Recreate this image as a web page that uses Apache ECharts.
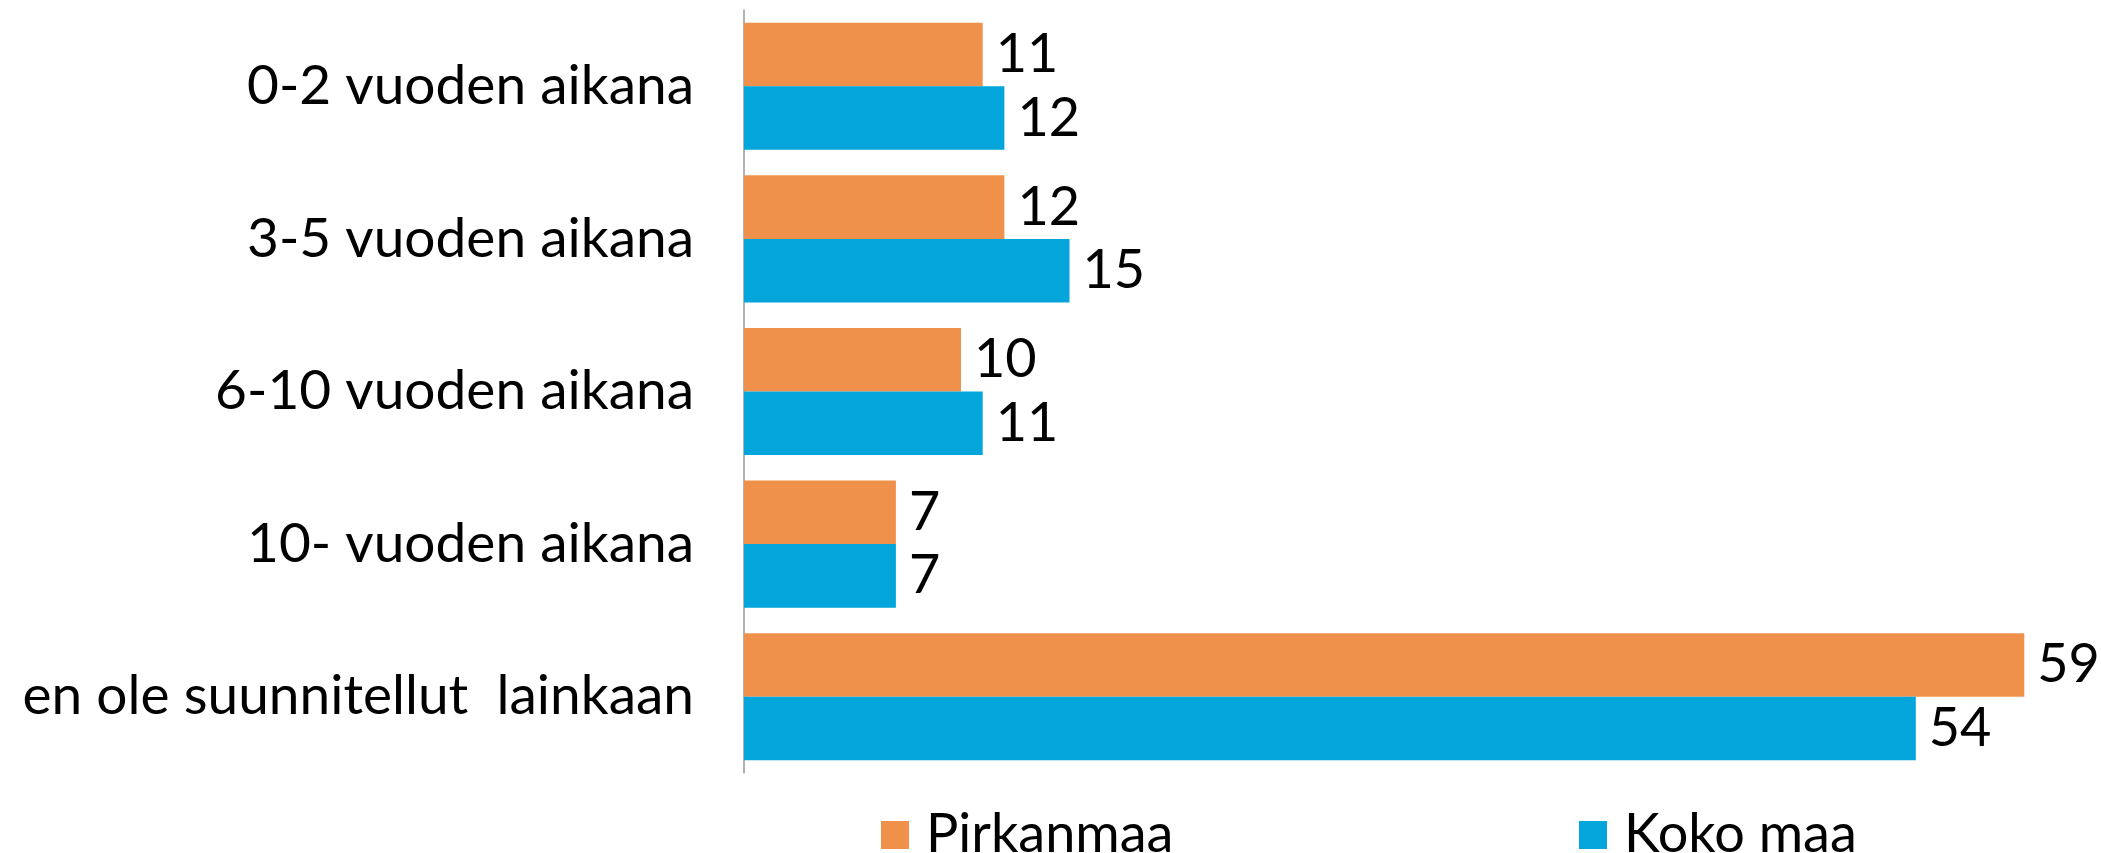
<!DOCTYPE html>
<html>
<head>
<meta charset="utf-8">
<script src="https://cdn.jsdelivr.net/npm/echarts@6/dist/echarts.min.js"></script>
<style>
	html, body { margin: 0; padding: 0; background: #fff; }
	#chart { width: 2101px; height: 853px; }
</style>
</head>
<body>
<div id="chart"></div>
<script>
var categories = ['0-2 vuoden aikana', '3-5 vuoden aikana', '6-10 vuoden aikana', '10- vuoden aikana', 'en ole suunnitellut  lainkaan'];
var pirkanmaa = [11, 12, 10, 7, 59];
var kokoMaa = [12, 15, 11, 7, 54];

var FONT = 'Lato';

function loadChart() {
	var mychart = echarts.init(document.getElementById('chart'));
	var labelStyle = {
		show: true,
		position: 'right',
		distance: 13,
		color: '#000',
		fontFamily: FONT,
		fontSize: 54
	};
	var option = {
		backgroundColor: '#fff',
		animation: false,
		grid: {
			left: 744,
			right: 55,
			top: 10,
			bottom: 80,
			outerBoundsMode: 'none'
		},
		legend: [{
			data: ['Pirkanmaa'],
			left: 876,
			top: 803,
			itemWidth: 28,
			itemHeight: 28,
			icon: 'rect',
			textStyle: { color: '#000', fontFamily: FONT, fontSize: 54, padding: [0, 0, 0, 12] }
		}, {
			data: ['Koko maa'],
			left: 1574,
			top: 803,
			itemWidth: 28,
			itemHeight: 28,
			icon: 'rect',
			textStyle: { color: '#000', fontFamily: FONT, fontSize: 54, padding: [0, 0, 0, 12] }
		}],
		xAxis: {
			type: 'value',
			min: 0,
			max: 60,
			show: false
		},
		yAxis: {
			type: 'category',
			inverse: true,
			data: categories,
			axisLine: { show: true, lineStyle: { color: '#999', width: 1.5 } },
			axisTick: { show: false },
			axisLabel: {
				margin: 50,
				color: '#000',
				fontFamily: FONT,
				fontSize: 55
			}
		},
		series: [{
			name: 'Pirkanmaa',
			type: 'bar',
			data: pirkanmaa,
			barGap: '0%',
			barCategoryGap: '16.7%',
			itemStyle: { color: '#F0914B' },
			label: labelStyle
		}, {
			name: 'Koko maa',
			type: 'bar',
			data: kokoMaa,
			barGap: '0%',
			barCategoryGap: '16.7%',
			itemStyle: { color: '#03A5DA' },
			label: labelStyle
		}]
	};
	mychart.setOption(option);
}

loadChart();
</script>
</body>
</html>
